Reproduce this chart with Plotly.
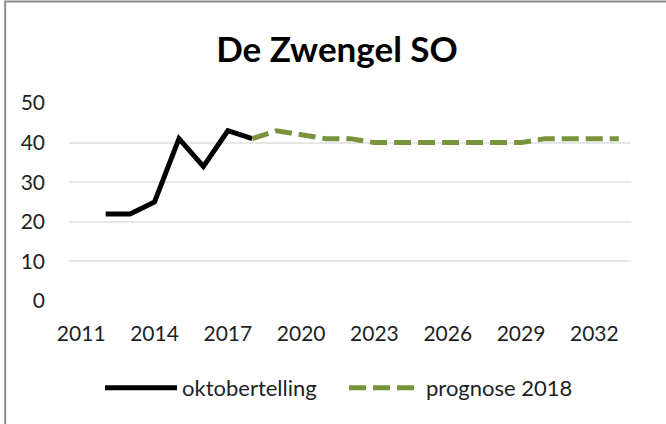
import plotly.graph_objects as go

years_obs = [2012, 2013, 2014, 2015, 2016, 2017, 2018]
oktobertelling = [22, 22, 25, 41, 34, 43, 41]

years_prog = list(range(2018, 2034))
prognose = [41, 43, 42, 41, 41, 40, 40, 40, 40, 40, 40, 40, 41, 41, 41, 41]

x_ticks = [2011, 2014, 2017, 2020, 2023, 2026, 2029, 2032]
y_ticks = [0, 10, 20, 30, 40, 50]

FONT = "Lato"
TXT = "#1f1f1f"

fig = go.Figure()
fig.add_trace(go.Scatter(x=years_obs, y=oktobertelling, mode="lines",
                         name="oktobertelling",
                         line=dict(color="#000000", width=5)))
fig.add_trace(go.Scatter(x=years_prog, y=prognose, mode="lines",
                         name="prognose 2018",
                         line=dict(color="#77933C", width=5, dash="17px,7px")))

fig.update_layout(
    width=666, height=424,
    margin=dict(l=69, r=35, t=103, b=123, autoexpand=False),
    paper_bgcolor="white", plot_bgcolor="white",
    font=dict(family=FONT, size=21, color=TXT),
    title=dict(text="<b>De Zwengel SO</b>", x=0.506, xanchor="center",
               y=1 - 50 / 424, yanchor="middle", yref="container",
               font=dict(family=FONT, size=35, color="#000000")),
    xaxis=dict(range=[2010.5, 2033.5], tickvals=x_ticks,
               ticktext=[str(v) for v in x_ticks],
               showgrid=False, zeroline=False, showline=False, ticks="",
               ticklabelstandoff=18,
               tickfont=dict(size=21, color=TXT)),
    yaxis=dict(range=[0, 50], tickvals=y_ticks, showgrid=True,
               gridcolor="#E6E6E6", gridwidth=1.5, zeroline=False,
               showline=False, ticks="", ticklabelstandoff=23,
               tickfont=dict(size=21, color=TXT)),
    legend=dict(orientation="h", x=(100 - 69) / 562, xanchor="left",
                y=-0.439, yanchor="middle", font=dict(size=22, color=TXT),
                itemwidth=72, entrywidth=157, entrywidthmode="pixels",
                tracegroupgap=0),
    showlegend=True,
)

fig.add_shape(type="rect", xref="paper", yref="paper",
              x0=-0.1136, x1=1.2, y0=-0.8, y1=1.5126,
              line=dict(color="#8C8C8C", width=2), fillcolor="rgba(0,0,0,0)",
              layer="below")

fig.write_html("out.html", config={"displayModeBar": False},
               post_script="document.body.style.margin='0px';")
